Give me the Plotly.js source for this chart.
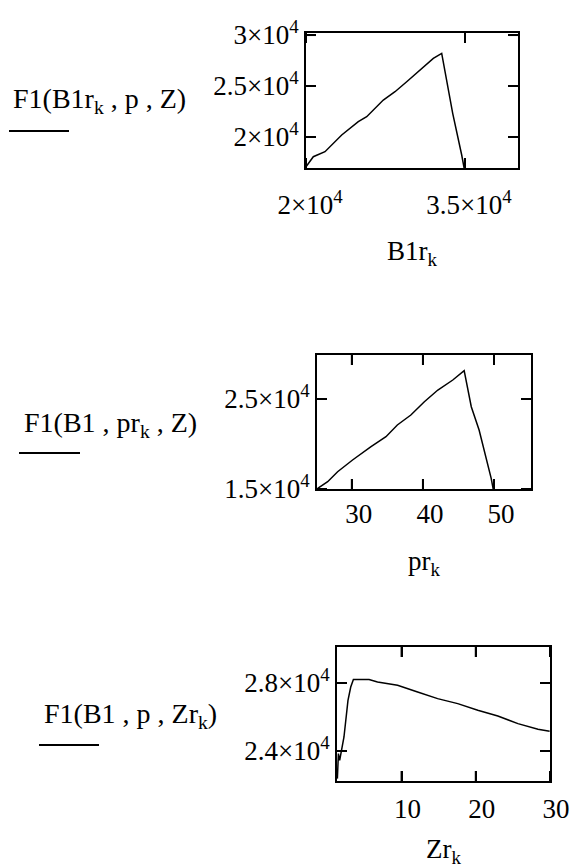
<!DOCTYPE html>
<html>
<head>
<meta charset="utf-8">
<script src="https://cdn.plot.ly/plotly-3.0.1.min.js"></script>
<style>
  html, body { margin: 0; padding: 0; background: #fff; }
  .panel { width: 570px; }
</style>
</head>
<body>
<div id="panel1" class="panel" style="height:290px"></div>
<div id="panel2" class="panel" style="height:290px"></div>
<div id="panel3" class="panel" style="height:288px"></div>
<script>
// F1 swept over B1r_k (p, Z fixed)
var B1r = [20000, 20689, 21792, 23368, 24934, 25726, 27292, 28396, 29500, 30915, 32010, 32802, 33840, 34689, 34934, 35000];
var F1_B1r = [17088, 18069, 18559, 20196, 21500, 21990, 23627, 24441, 25422, 26735, 27716, 28206, 22324, 18235, 17088, 16500];

// F1 swept over pr_k
var pr = [25.2, 26.6, 28.0, 30.1, 32.7, 34.8, 36.4, 38.3, 40.2, 42.1, 44.2, 45.8, 46.8, 47.9, 49.6, 49.8, 50.0];
var F1_pr = [15078, 15811, 16922, 18222, 19700, 20811, 22111, 23222, 24700, 26000, 27111, 28144, 24144, 21556, 16189, 15256, 14500];

// F1 swept over Zr_k
var Zr = [1.35, 1.49, 1.66, 2.24, 2.78, 3.15, 3.51, 5.62, 6.76, 9.46, 12.16, 14.86, 17.57, 20.27, 22.97, 25.68, 28.38, 29.95];
var F1_Zr = [22376, 23847, 23453, 24824, 26982, 27765, 28200, 28200, 28059, 27865, 27471, 27082, 26788, 26394, 26059, 25612, 25276, 25159];

// tick labels, mathcad style
var ticks1x = [20000, 35000], ticks1xText = ["2×10<sup>4</sup>", "3.5×10<sup>4</sup>"];
var ticks1y = [20000, 25000, 30000], ticks1yText = ["2×10<sup>4</sup>", "2.5×10<sup>4</sup>", "3×10<sup>4</sup>"];
var ticks2x = [30, 40, 50], ticks2xText = ["30", "40", "50"];
var ticks2y = [15000, 25000], ticks2yText = ["1.5×10<sup>4</sup>", "2.5×10<sup>4</sup>"];
var ticks3x = [10, 20, 30], ticks3xText = ["10", "20", "30"];
var ticks3y = [24000, 28000], ticks3yText = ["2.4×10<sup>4</sup>", "2.8×10<sup>4</sup>"];

var W = 570;
var FONT = "Liberation Serif, Times New Roman, serif";
var TICKLEN = 10;

// one mathcad region per div; positions in px inside that div
var panels = [
	{ id: "panel1", h: 290, x: B1r, y: F1_B1r, xr: [20000, 40000], yr: [16960, 30200],
	  xt: ticks1x, xtt: ticks1xText, yt: ticks1y, ytt: ticks1yText,
	  box: [306, 518, 33, 168], xStandoff: 12, xShift: 4, titleStandoff: 22,
	  title: "B1r<sub>k</sub>", fn: "F1(B1r<sub>k</sub> , p , Z)", fnX: 11, fnY: 100, bar: [9, 69, 131] },
	{ id: "panel2", h: 290, x: pr, y: F1_pr, xr: [25.1, 55.2], yr: [15000, 29890],
	  xt: ticks2x, xtt: ticks2xText, yt: ticks2y, ytt: ticks2yText,
	  box: [317, 531, 65, 199], xStandoff: 0, xShift: 7, titleStandoff: 23,
	  title: "pr<sub>k</sub>", fn: "F1(B1 , pr<sub>k</sub> , Z)", fnX: 22, fnY: 134, bar: [19, 80, 163] },
	{ id: "panel3", h: 288, x: Zr, y: F1_Zr, xr: [1.3, 30], yr: [22235, 30118],
	  xt: ticks3x, xtt: ticks3xText, yt: ticks3y, ytt: ticks3yText,
	  box: [337, 550, 67, 201], xStandoff: 3, xShift: 6, titleStandoff: 20,
	  title: "Zr<sub>k</sub>", fn: "F1(B1 , p , Zr<sub>k</sub>)", fnX: 42, fnY: 135, bar: [39, 99, 165] }
];

function boxAxis(domain, range, vals, text, extra) {
	var ax = {
		domain: domain,
		range: range,
		tickmode: "array",
		tickvals: vals,
		ticktext: text,
		ticks: "inside",
		ticklen: TICKLEN,
		tickwidth: 2,
		tickcolor: "#000",
		showline: true,
		linecolor: "#000",
		linewidth: 2,
		mirror: "ticks",
		showgrid: false,
		zeroline: false,
		tickfont: { family: FONT, size: 27, color: "#000" }
	};
	for (var k in extra) ax[k] = extra[k];
	return ax;
}

// the inside tick marks on all four sides, placed on the tick values
// (the axis' own inside ticks did not show up in the render)
function tickShapes(p) {
	var b = p.box;
	var fx = TICKLEN / (b[1] - b[0]);
	var fy = TICKLEN / (b[3] - b[2]);
	var ln = { color: "#000", width: 2 };
	var s = [];
	p.xt.forEach(function (v) {
		s.push({ type: "line", xref: "x", yref: "y domain", x0: v, x1: v, y0: 0, y1: fy, line: ln });
		s.push({ type: "line", xref: "x", yref: "y domain", x0: v, x1: v, y0: 1 - fy, y1: 1, line: ln });
	});
	p.yt.forEach(function (v) {
		s.push({ type: "line", xref: "x domain", yref: "y", x0: 0, x1: fx, y0: v, y1: v, line: ln });
		s.push({ type: "line", xref: "x domain", yref: "y", x0: 1 - fx, x1: 1, y0: v, y1: v, line: ln });
	});
	return s;
}

function buildLayout(p) {
	var H = p.h;
	var b = p.box;
	var shapes = tickShapes(p);
	// short bar under "F1"
	shapes.push({ type: "line", xref: "paper", yref: "paper", x0: p.bar[0] / W, x1: p.bar[1] / W,
		y0: 1 - p.bar[2] / H, y1: 1 - p.bar[2] / H, line: { color: "#000", width: 2 } });

	return {
		width: W,
		height: H,
		margin: { l: 0, r: 0, t: 0, b: 0 },
		showlegend: false,
		font: { family: FONT, size: 27, color: "#000" },
		xaxis: boxAxis([b[0] / W, b[1] / W], p.xr, p.xt, p.xtt, {
			ticklabelshift: p.xShift,
			ticklabelstandoff: p.xStandoff,
			ticklabeloverflow: "allow",
			title: { text: p.title, standoff: p.titleStandoff, font: { family: FONT, size: 27, color: "#000" } }
		}),
		yaxis: boxAxis([1 - b[3] / H, 1 - b[2] / H], p.yr, p.yt, p.ytt, {}),
		annotations: [
			{ text: p.fn, x: p.fnX / W, y: 1 - p.fnY / H, xref: "paper", yref: "paper",
			  xanchor: "left", yanchor: "middle", showarrow: false, font: { family: FONT, size: 28, color: "#000" } }
		],
		shapes: shapes
	};
}

panels.forEach(function (p) {
	var trace = { x: p.x, y: p.y, type: "scatter", mode: "lines", line: { color: "#000", width: 1.5 } };
	Plotly.newPlot(p.id, [trace], buildLayout(p), { displayModeBar: false });
});
</script>
</body>
</html>
